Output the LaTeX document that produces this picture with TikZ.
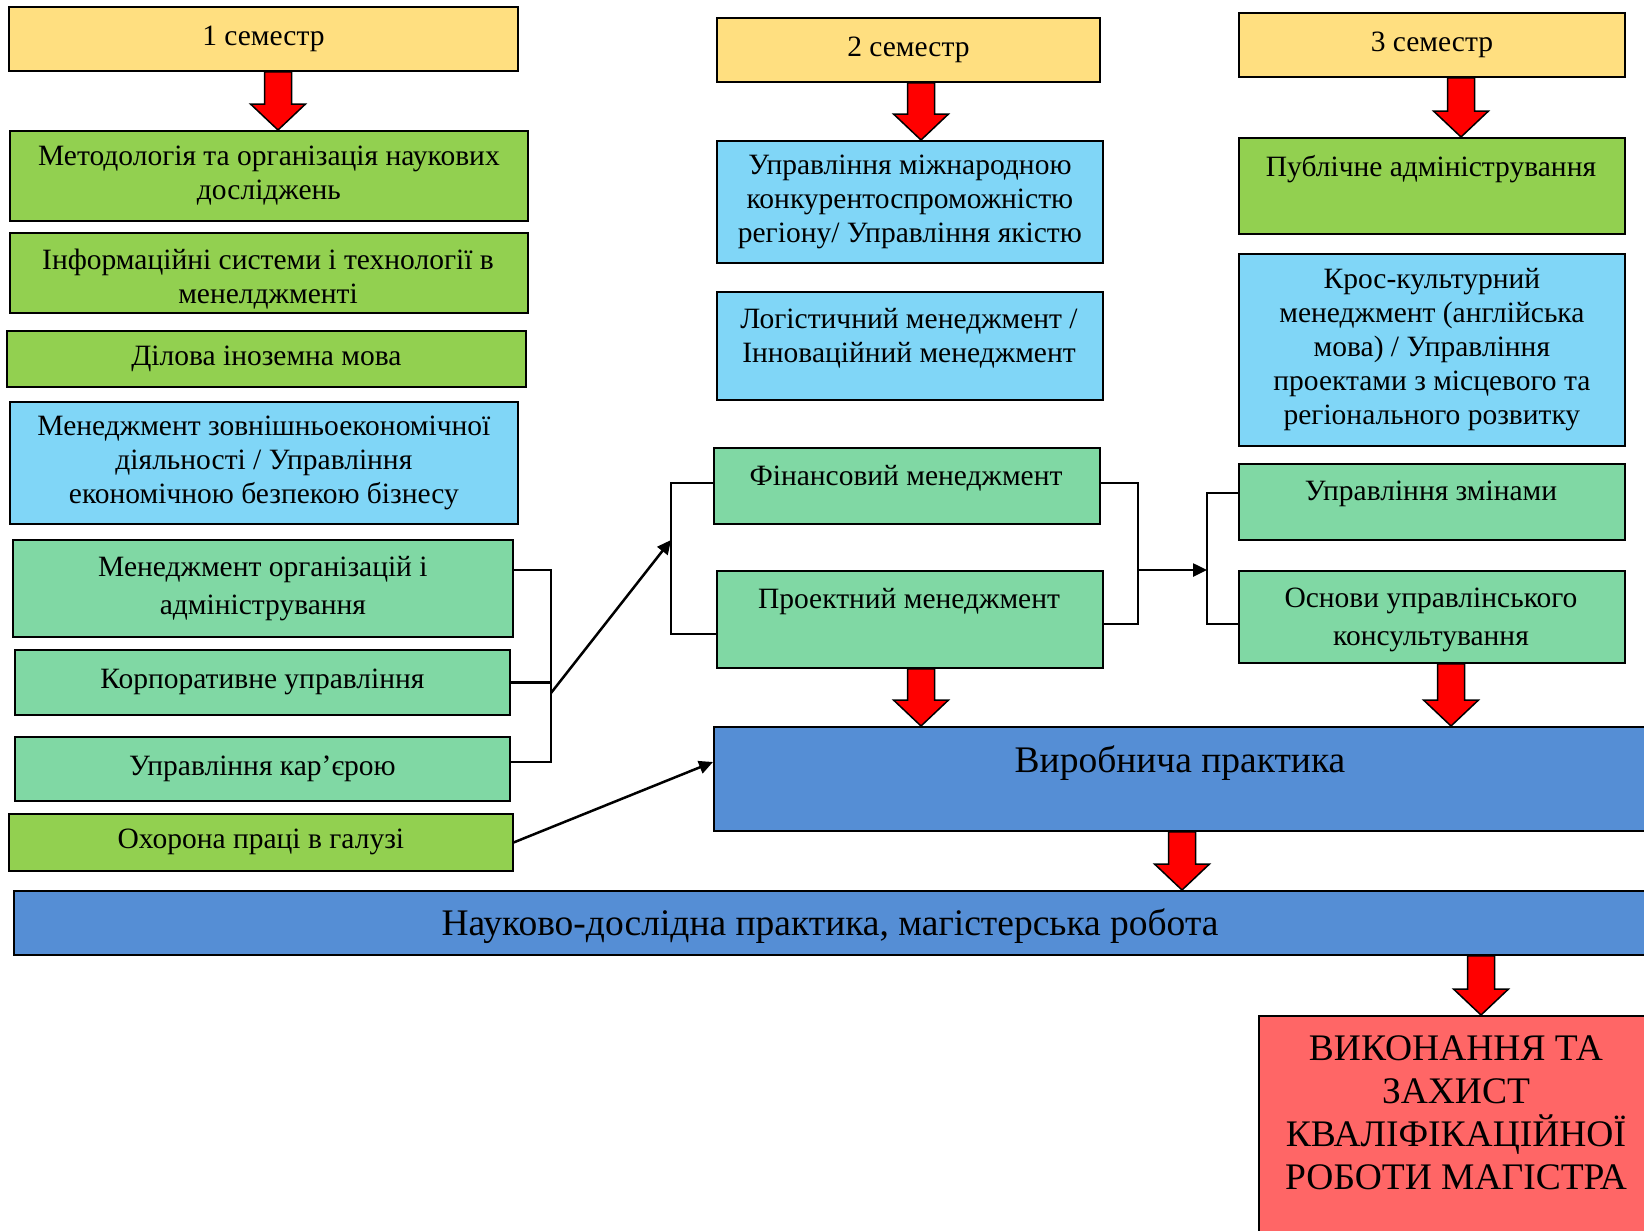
\documentclass[tikz,border=0pt]{standalone}
\usepackage{fontspec}
\setmainfont{Liberation Serif}
\usetikzlibrary{arrows.meta,calc}
\definecolor{cYel}{HTML}{FFDF80}
\definecolor{cGreen}{HTML}{92D050}
\definecolor{cLBlue}{HTML}{80D6F7}
\definecolor{cMGreen}{HTML}{80D8A4}
\definecolor{cBlue}{HTML}{558ED5}
\definecolor{cRedBox}{HTML}{FF6666}
\newcommand\fsN{\fontsize{29.5}{34}\selectfont}
\newcommand\fsW{\fontsize{29.5}{38.5}\selectfont}
\newcommand\fsB{\fontsize{37.5}{44}\selectfont}
\newcommand\fsV{\fontsize{37.5}{43}\selectfont}
\tikzset{
  box/.style={draw=black, line width=1.8pt, inner sep=0pt, anchor=north west, align=center, font=\fsN},
  wh/.style 2 args={minimum width=#1pt, minimum height=#2pt},
  txt/.style={inner sep=0pt, align=center, font=\fsN},
  conn/.style={draw=black, line width=2.5pt},
  tip/.style={-{Triangle[length=14pt,width=13pt]}},
  blockarr/.style={fill=red, draw=black, line width=1.5pt, line join=miter},
}
% #1 = x (pt), #2 = start anchor, #3 = end anchor
\newcommand\blockarrow[3]{%
  \draw[blockarr] let \p1=(#2), \p2=(#3) in
    (#1pt-13.5pt,\y1) -- (#1pt+13.5pt,\y1) -- (#1pt+13.5pt,\y2+26pt) --
    (#1pt+27.5pt,\y2+26pt) -- (#1pt,\y2) -- (#1pt-27.5pt,\y2+26pt) --
    (#1pt-13.5pt,\y2+26pt) -- cycle;}
\begin{document}
\begin{tikzpicture}[x=1pt,y=-1pt]
\useasboundingbox (0,0) rectangle (1644,1231);
% column 1
\node[box,fill=cYel,wh={509}{64}] (sem1) at (8,6) {1 семестр};
\node[box,fill=cGreen,wh={518}{90}] (met) at (9,130) {Методологія та організація наукових\\досліджень};
\node[box,fill=cGreen,wh={518}{80}] (inf) at (9,232) {};
\node[txt] (inft) at (268,279) {Інформаційні системи і технології в\\менелджменті};
\node[box,fill=cGreen,wh={519}{56}] (dil) at (6,330) {Ділова іноземна мова};
\node[box,fill=cLBlue,wh={508}{122}] (zed) at (9,401) {Менеджмент зовнішньоекономічної\\діяльності / Управління\\економічною безпекою бізнесу};
\node[box,fill=cMGreen,wh={500}{97},font=\fsW] (morg) at (12,539) {Менеджмент організацій і\\адміністрування};
\node[box,fill=cMGreen,wh={495}{65}] (korp) at (14,649) {Корпоративне управління};
\node[box,fill=cMGreen,wh={495}{64}] (kar) at (14,736) {Управління кар’єрою};
\node[box,fill=cGreen,wh={504}{57}] (okh) at (8,813) {Охорона праці в галузі};
% column 2
\node[box,fill=cYel,wh={383}{64}] (sem2) at (716,17) {2 семестр};
\node[box,fill=cLBlue,wh={386}{122}] (umn) at (716,140) {Управління міжнародною\\конкурентоспроможністю\\регіону/ Управління якістю};
\node[box,fill=cLBlue,wh={386}{108}] (log) at (716,291) {};
\node[txt] (logt) at (909,338) {Логістичний менеджмент /\\Інноваційний менеджмент};
\node[box,fill=cMGreen,wh={386}{76}] (fin) at (713,447) {};
\node[txt] (fint) at (906,478) {Фінансовий менеджмент};
\node[box,fill=cMGreen,wh={386}{97}] (proj) at (716,570) {};
\node[txt] (projt) at (909,602) {Проектний менеджмент};
% column 3
\node[box,fill=cYel,wh={386}{64}] (sem3) at (1238,12) {3 семестр};
\node[box,fill=cGreen,wh={386}{96}] (pub) at (1238,137) {};
\node[txt] (pubt) at (1431,169) {Публічне адміністрування};
\node[box,fill=cLBlue,wh={386}{192}] (kros) at (1238,253) {Крос-культурний\\менеджмент (англійська\\мова) / Управління\\проектами з місцевого та\\регіонального розвитку};
\node[box,fill=cMGreen,wh={386}{76}] (zmin) at (1238,463) {};
\node[txt] (zmint) at (1431,494) {Управління змінами};
\node[box,fill=cMGreen,wh={386}{92}] (osn) at (1238,570) {};
\node[txt,font=\fsW] (osnt) at (1431,620) {Основи управлінського\\консультування};
% bottom
\node[box,fill=cBlue,wh={935}{104}] (vyr) at (713,726) {};
\node[txt,font=\fsB] (vyrt) at (1180,763) {Виробнича практика};
\node[box,fill=cBlue,wh={1635}{64}] (nauk) at (13,890) {};
\node[txt,font=\fsB] (naukt) at (830,926) {Науково-дослідна практика, магістерська робота};
\node[box,fill=cRedBox,wh={390}{230}] (vyk) at (1258,1015) {};
\node[txt,font=\fsV] (vykt) at (1456,1113) {ВИКОНАННЯ ТА\\ЗАХИСТ\\КВАЛІФІКАЦІЙНОЇ\\РОБОТИ МАГІСТРА};
% block arrows
\blockarrow{278}{sem1.south}{met.north}
\blockarrow{921}{sem2.south}{umn.north}
\blockarrow{1461}{sem3.south}{pub.north}
\blockarrow{921}{proj.south}{vyr.north}
\blockarrow{1451}{osn.south}{vyr.north}
\blockarrow{1182}{vyr.south}{nauk.north}
\blockarrow{1481}{nauk.south}{vyk.north}
% connectors
\coordinate (j1t) at (551,570);
\coordinate (j1b) at (551,762);
\coordinate (j1m) at (551,693);
\coordinate (j2t) at (671,483);
\coordinate (j2b) at (671,634);
\coordinate (j2m) at (671,540);
\coordinate (j3t) at (1138,483);
\coordinate (j3b) at (1138,624);
\coordinate (j3m) at (1138,570);
\coordinate (j4t) at (1207,493);
\coordinate (j4b) at (1207,624);
\coordinate (j4m) at (1207,570);
\coordinate (vin) at (713,762);
\draw[conn] (morg.east |- j1t) -- (j1t) -- (j1b) -- (kar.east |- j1b);
\draw[conn] (korp.east) -- (korp.east -| j1t);
\draw[conn,tip] (j1m) -- (j2m);
\draw[conn] (fin.west |- j2t) -- (j2t) -- (j2b) -- (proj.west |- j2b);
\draw[conn,tip] (okh.east) -- (vin);
\draw[conn] (fin.east |- j3t) -- (j3t) -- (j3b) -- (proj.east |- j3b);
\draw[conn,tip] (j3m) -- (j4m);
\draw[conn] (zmin.west |- j4t) -- (j4t) -- (j4b) -- (osn.west |- j4b);
\end{tikzpicture}
\end{document}
